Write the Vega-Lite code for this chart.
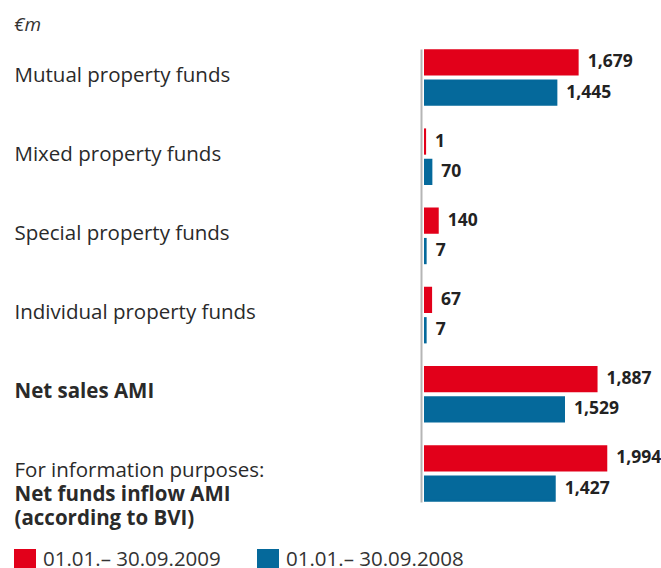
{
  "$schema": "https://vega.github.io/schema/vega-lite/v6.json",
  "width": 200,
  "height": 453,
  "autosize": {"type": "none"},
  "padding": {"left": 425, "top": 49, "right": 36, "bottom": 66},
  "title": {"text": "€m", "anchor": "start", "frame": "bounds", "fontStyle": "italic", "fontWeight": "normal", "fontSize": 19, "font": "Open Sans", "color": "#333333", "offset": 14},
  "data": {
    "values": [
      {"category": "Mutual property funds", "period": "01.01.– 30.09.2009", "value": 1679},
      {"category": "Mutual property funds", "period": "01.01.– 30.09.2008", "value": 1445},
      {"category": "Mixed property funds", "period": "01.01.– 30.09.2009", "value": 1},
      {"category": "Mixed property funds", "period": "01.01.– 30.09.2008", "value": 70},
      {"category": "Special property funds", "period": "01.01.– 30.09.2009", "value": 140},
      {"category": "Special property funds", "period": "01.01.– 30.09.2008", "value": 7},
      {"category": "Individual property funds", "period": "01.01.– 30.09.2009", "value": 67},
      {"category": "Individual property funds", "period": "01.01.– 30.09.2008", "value": 7},
      {"category": "Net sales AMI", "period": "01.01.– 30.09.2009", "value": 1887},
      {"category": "Net sales AMI", "period": "01.01.– 30.09.2008", "value": 1529},
      {"category": "For information purposes: Net funds inflow AMI (according to BVI)", "period": "01.01.– 30.09.2009", "value": 1994},
      {"category": "For information purposes: Net funds inflow AMI (according to BVI)", "period": "01.01.– 30.09.2008", "value": 1427}
    ]
  },
  "layer": [
    {
      "mark": {"type": "bar", "strokeWidth": 2},
      "encoding": {
        "y": {
          "field": "category", "type": "nominal", "sort": null,
          "scale": {"paddingInner": 0.28, "paddingOuter": 0},
          "axis": {
            "orient": "left", "offset": 4, "title": null, "grid": false,
            "domainColor": "#b5b5b5", "domainWidth": 2, "ticks": false, "tickSize": 0,
            "labelAlign": "left", "labelBaseline": "middle", "labelPadding": 407, "labelLimit": 0,
            "labelFontSize": 20.5, "labelFont": "Open Sans", "labelColor": "#2a2a2a",
            "labelLineHeight": 24, "labelOffset": -2,
            "labelFontWeight": {"condition": {"test": "datum.value == 'Net sales AMI' || indexof(datum.value, 'For information') == 0", "value": "bold"}, "value": "normal"},
            "labelExpr": "indexof(datum.value, 'For information') == 0 ? [' ', 'Net funds inflow AMI', '(according to BVI)'] : datum.value"
          }
        },
        "yOffset": {
          "field": "period", "type": "nominal",
          "scale": {"domain": ["01.01.– 30.09.2009", "01.01.– 30.09.2008"], "paddingInner": 0.2, "paddingOuter": 0.04}
        },
        "x": {"field": "value", "type": "quantitative", "scale": {"domain": [0, 2200], "nice": false, "zero": true}, "axis": null},
        "color": {
          "field": "period", "type": "nominal",
          "scale": {"domain": ["01.01.– 30.09.2009", "01.01.– 30.09.2008"], "range": ["#e2001a", "#05699b"]},
          "legend": {
            "orient": "none", "legendX": -411, "legendY": 500, "direction": "horizontal", "title": null,
            "symbolType": "square", "symbolSize": 484, "symbolStrokeWidth": 0,
            "labelFontSize": 20.5, "labelFont": "Open Sans", "labelColor": "#333333", "labelOffset": 7,
            "columnPadding": 36, "padding": 0, "labelLimit": 0
          }
        },
        "stroke": {
          "field": "period", "type": "nominal",
          "scale": {"domain": ["01.01.– 30.09.2009", "01.01.– 30.09.2008"], "range": ["#e2001a", "#05699b"]},
          "legend": null
        }
      }
    },
    {
      "mark": {"type": "text", "align": "left", "baseline": "middle", "dx": 10, "fontSize": 17.5, "fontWeight": "bold", "font": "Open Sans", "color": "#222222"},
      "encoding": {
        "y": {
          "field": "category", "type": "nominal", "sort": null,
          "axis": {
            "orient": "left", "offset": 4, "title": null, "grid": false, "domain": false,
            "ticks": false, "tickSize": 0,
            "labelAlign": "left", "labelBaseline": "middle", "labelPadding": 407, "labelLimit": 0,
            "labelFontSize": 20.5, "labelFont": "Open Sans", "labelColor": "#2a2a2a", "labelFontWeight": "normal",
            "labelLineHeight": 24, "labelOffset": -2,
            "labelExpr": "indexof(datum.value, 'For information') == 0 ? ['For information purposes:', ' ', ' '] : ''"
          }
        },
        "yOffset": {"field": "period", "type": "nominal"},
        "x": {"field": "value", "type": "quantitative"},
        "text": {"field": "value", "type": "quantitative", "format": ","}
      }
    }
  ],
  "resolve": {"axis": {"y": "independent"}},
  "config": {"view": {"stroke": null}}
}
